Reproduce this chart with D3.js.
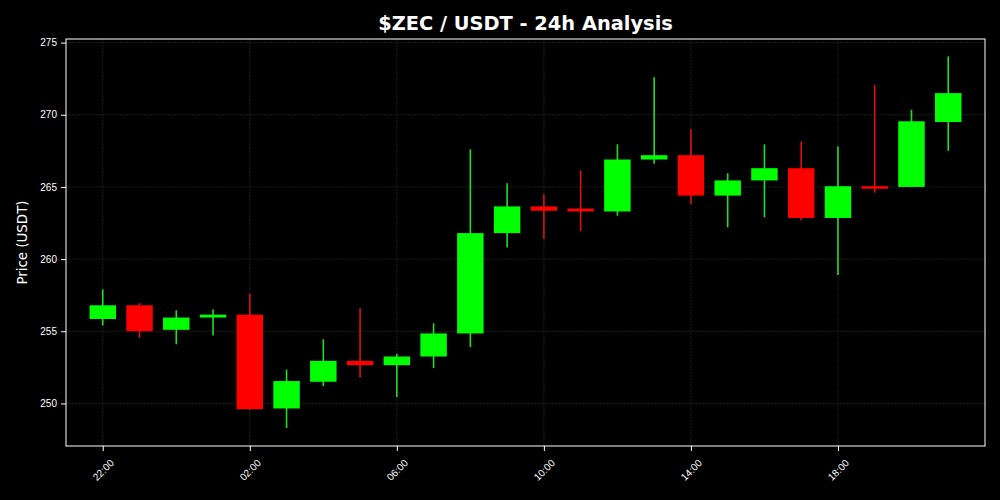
<!DOCTYPE html>
<html>
<head>
<meta charset="utf-8">
<script src="https://cdn.jsdelivr.net/npm/d3@7"></script>
<style>
  body { margin: 0; background: #000; }
  svg { display: block; font-family: "DejaVu Sans", sans-serif; }
</style>
</head>
<body>
<div id="chart"></div>
<script>
// hourly candles, 22:00 -> 21:00 next day
var hours = ["22:00","23:00","00:00","01:00","02:00","03:00","04:00","05:00",
             "06:00","07:00","08:00","09:00","10:00","11:00","12:00","13:00",
             "14:00","15:00","16:00","17:00","18:00","19:00","20:00","21:00"];
var opens  = [255.85, 256.8, 255.1, 255.95, 256.15, 249.65, 251.5, 252.95,
              252.65, 253.25, 254.85, 261.8, 263.65, 263.5, 263.3, 266.9,
              267.2, 264.4, 265.45, 266.3, 262.85, 265.05, 265.0, 269.5];
var highs  = [257.9, 256.95, 256.45, 256.5, 257.6, 252.35, 254.45, 256.6,
              253.45, 255.55, 267.6, 265.25, 264.5, 266.15, 267.95, 272.6,
              269.0, 265.95, 267.95, 268.15, 267.8, 272.05, 270.35, 274.05];
var lows   = [255.4, 254.55, 254.1, 254.7, 249.55, 248.3, 251.2, 251.8,
              250.45, 252.45, 253.9, 260.8, 261.4, 261.95, 263.0, 266.6,
              263.8, 262.2, 262.9, 262.7, 258.9, 264.6, 265.0, 267.5];
var closes = [256.8, 255.0, 255.95, 256.15, 249.6, 251.55, 252.95, 252.65,
              253.25, 254.85, 261.8, 263.65, 263.35, 263.3, 266.9, 267.2,
              264.4, 265.45, 266.3, 262.85, 265.05, 264.95, 269.55, 271.5];
var xTickLabels = ["22:00","02:00","06:00","10:00","14:00","18:00"];
var yTicks = [250, 255, 260, 265, 270, 275];

var width = 1000,
	height = 500;
var margin = {top: 39, right: 15, bottom: 54, left: 66};

var start = new Date(2024, 0, 1, 22, 0);
var hourMs = 3600 * 1000;

// turn the hour labels into real times (rolling over midnight)
var candles = hours.map(function(h, i){
	return {
		t: new Date(start.getTime() + i * hourMs),
		open: opens[i], high: highs[i], low: lows[i], close: closes[i]
	};
});

var xScale = d3.scaleTime()
	.domain([new Date(start.getTime() - hourMs), new Date(start.getTime() + 24 * hourMs)])
	.range([margin.left, width - margin.right]);

var yScale = d3.scaleLinear()
	.domain([247.05, 275.25])
	.range([height - margin.bottom, margin.top]);

var bodyW = xScale(new Date(start.getTime() + 0.72 * hourMs)) - xScale(start);

var svg = d3.select("#chart").append("svg")
	.attr("width", width)
	.attr("height", height)
	.style("background", "#000");

// tick times for the x axis, every 4h from 22:00
var xTickTimes = xTickLabels.map(function(l, i){
	return new Date(start.getTime() + i * 4 * hourMs);
});

// grid
var grid = svg.append("g");
grid.selectAll("line.gy").data(yTicks).enter().append("line")
	.attr("x1", margin.left).attr("x2", width - margin.right)
	.attr("y1", function(d){ return yScale(d); })
	.attr("y2", function(d){ return yScale(d); })
	.attr("stroke", "#262626").attr("stroke-width", 0.8)
	.attr("stroke-dasharray", "2,1");
grid.selectAll("line.gx").data(xTickTimes).enter().append("line")
	.attr("y1", margin.top).attr("y2", height - margin.bottom)
	.attr("x1", function(d){ return xScale(d); })
	.attr("x2", function(d){ return xScale(d); })
	.attr("stroke", "#262626").attr("stroke-width", 0.8)
	.attr("stroke-dasharray", "2,1");

var colorOf = function(d){ return d.close >= d.open ? "#00ff00" : "#ff0000"; };

// wicks
svg.append("g").selectAll("line").data(candles).enter().append("line")
	.attr("x1", function(d){ return xScale(d.t); })
	.attr("x2", function(d){ return xScale(d.t); })
	.attr("y1", function(d){ return yScale(d.high); })
	.attr("y2", function(d){ return yScale(d.low); })
	.attr("stroke", function(d){ return d.close >= d.open ? "#22dd22" : "#dd1111"; })
	.attr("stroke-width", 1.6);

// bodies
svg.append("g").selectAll("rect").data(candles).enter().append("rect")
	.attr("x", function(d){ return xScale(d.t) - bodyW / 2; })
	.attr("width", bodyW)
	.attr("y", function(d){ return yScale(Math.max(d.open, d.close)); })
	.attr("height", function(d){
		return Math.max(2.5, Math.abs(yScale(d.open) - yScale(d.close)));
	})
	.attr("fill", colorOf);

// frame
svg.append("rect")
	.attr("x", margin.left).attr("y", margin.top)
	.attr("width", width - margin.left - margin.right)
	.attr("height", height - margin.top - margin.bottom)
	.attr("fill", "none").attr("stroke", "#fff").attr("stroke-width", 1);

// axes
var yAxis = d3.axisLeft(yScale).tickValues(yTicks).tickSize(5).tickPadding(4);
var gy = svg.append("g").attr("transform", "translate(" + margin.left + ",0)").call(yAxis);
gy.select(".domain").remove();
gy.selectAll("line").attr("stroke", "#fff");
gy.selectAll("text").attr("fill", "#fff").attr("font-size", 10).style("font-size", "10px");

var xAxis = d3.axisBottom(xScale).tickValues(xTickTimes)
	.tickFormat(function(d, i){ return xTickLabels[i]; })
	.tickSize(5).tickPadding(3);
var gx = svg.append("g").attr("transform", "translate(0," + (height - margin.bottom) + ")").call(xAxis);
gx.select(".domain").remove();
gx.selectAll("line").attr("stroke", "#fff");
gx.selectAll("text")
	.attr("fill", "#fff").style("font-size", "10px")
	.attr("text-anchor", "middle")
	.attr("y", 0)
	.attr("dy", "0.35em")
	.attr("transform", "translate(0,24) rotate(-45)");

// labels
svg.append("text")
	.attr("x", (margin.left + width - margin.right) / 2)
	.attr("y", 30)
	.attr("text-anchor", "middle")
	.attr("fill", "#fff")
	.style("font-size", "19.4px").style("font-weight", "bold")
	.text("$ZEC / USDT - 24h Analysis");

svg.append("text")
	.attr("transform", "translate(27," + ((margin.top + height - margin.bottom) / 2) + ") rotate(-90)")
	.attr("text-anchor", "middle")
	.attr("fill", "#fff")
	.style("font-size", "13.4px")
	.text("Price (USDT)");
</script>
</body>
</html>
